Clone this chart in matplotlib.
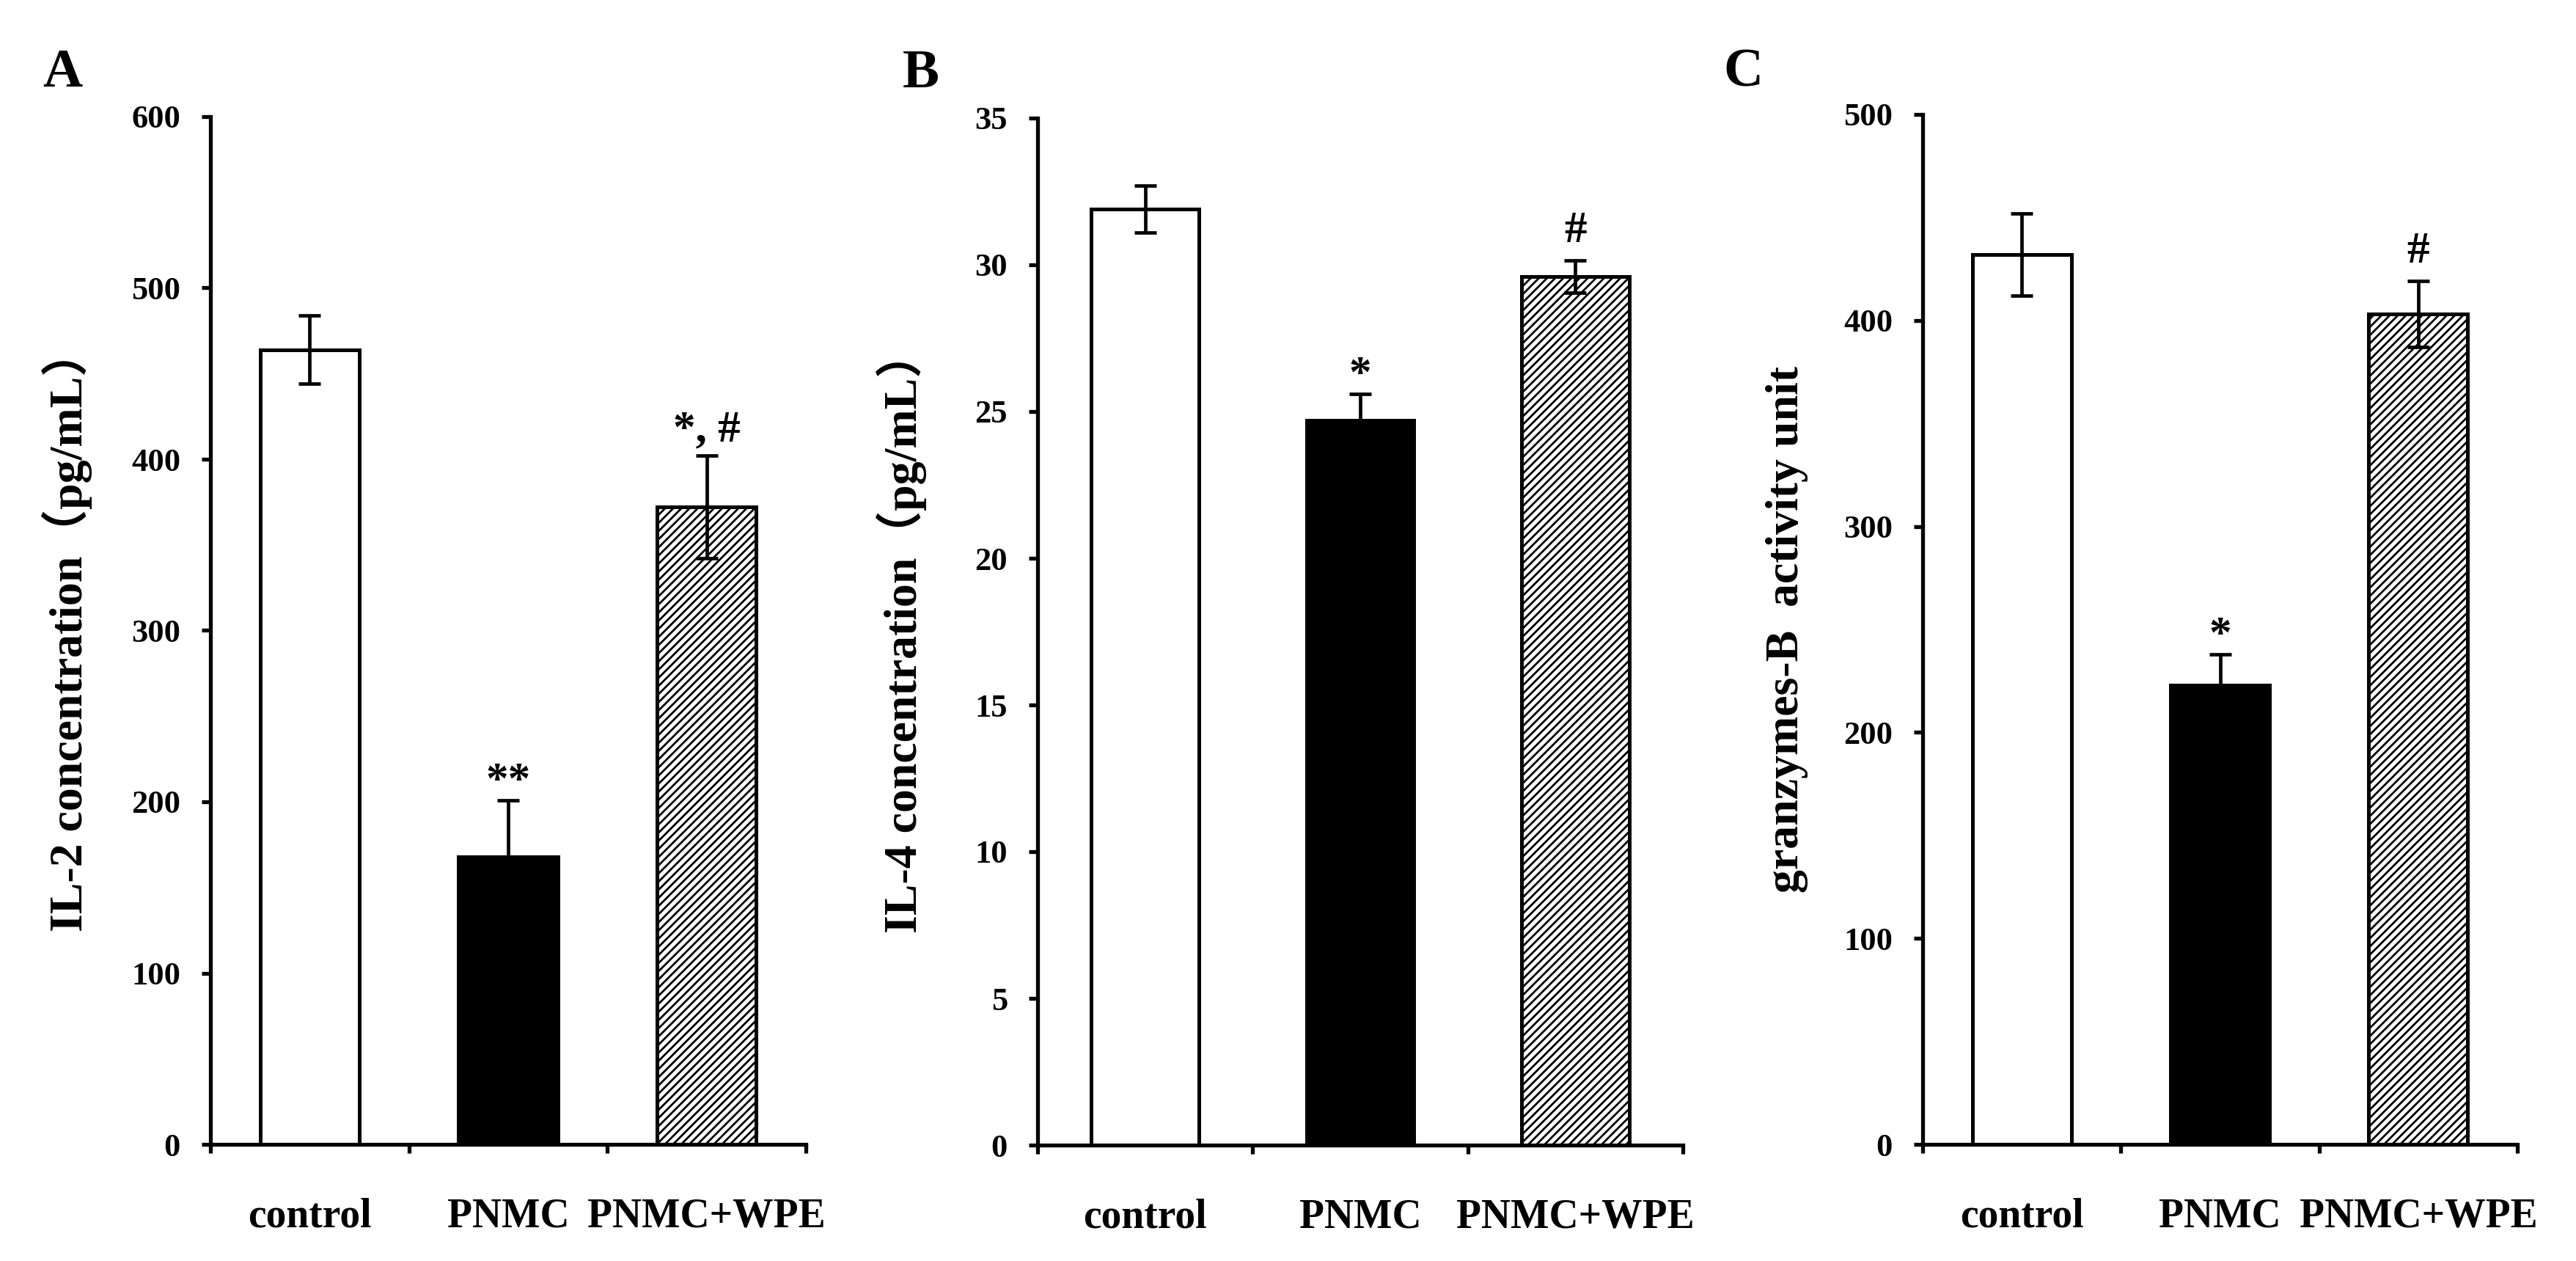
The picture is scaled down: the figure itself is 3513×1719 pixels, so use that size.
import matplotlib
matplotlib.use("Agg")
import matplotlib.pyplot as plt

# ---------------------------------------------------------------
# data
# ---------------------------------------------------------------
groups = ["control", "PNMC", "PNMC+WPE"]

il2_mean = [464, 168, 372]
il2_err = [20, 33, 30]
il2_marks = ["", "**", "*, #"]

il4_mean = [31.9, 24.7, 29.6]
il4_err = [0.8, 0.9, 0.55]
il4_marks = ["", "*", "#"]

gzb_mean = [432, 223, 403]
gzb_err = [20, 15, 16]
gzb_marks = ["", "*", "#"]

il2_ticks = [0, 100, 200, 300, 400, 500, 600]
il4_ticks = [0, 5, 10, 15, 20, 25, 30, 35]
gzb_ticks = [0, 100, 200, 300, 400, 500]

plt.rcParams["font.family"] = ["Liberation Serif", "Noto Sans CJK SC"]
plt.rcParams["font.weight"] = "bold"
plt.rcParams["hatch.linewidth"] = 2.0

W, H = 3513, 1719
fig = plt.figure(figsize=(W / 100, H / 100), dpi=100)

fills = ["white", "black", "white"]
hatches = [None, None, "///"]


def draw_panel(rect, means, errs, marks, ticks, ylabel, ylab_x, letter, letter_xy):
    ax = fig.add_axes(rect)
    x = list(range(len(groups)))
    ax.bar(x, means, width=0.5, color=fills, edgecolor="black",
           linewidth=3.6, hatch=hatches, zorder=2)
    ax.errorbar(x, means, yerr=errs, fmt="none", ecolor="black",
                elinewidth=3.4, capsize=11, capthick=3.4, zorder=3)

    # significance marks above the error bars
    for xi, m, e, s in zip(x, means, errs, marks):
        if not s:
            continue
        off = 18 if s.startswith("#") else 7
        if "," in s:
            off = 14
        ax.annotate(s, (xi, m + e), xytext=(0, off), textcoords="offset points",
                    ha="center", va="baseline", fontsize=44, fontweight="bold")

    ax.set_xlim(-0.5, len(groups) - 0.5)
    ax.set_ylim(ticks[0], ticks[-1])
    ax.set_yticks(ticks)
    ax.set_yticklabels([str(t) for t in ticks])

    # boundary ticks without labels, group names at bar centres
    ax.set_xticks([i - 0.5 for i in range(len(groups) + 1)])
    ax.set_xticklabels([])
    ax.set_xticks(x, minor=True)
    ax.set_xticklabels(groups, minor=True)

    ax.spines["top"].set_visible(False)
    ax.spines["right"].set_visible(False)
    ax.spines["left"].set_linewidth(3.8)
    ax.spines["bottom"].set_linewidth(3.8)

    ax.tick_params(axis="y", direction="out", length=8.5, width=3.8,
                   labelsize=32, pad=21)
    ax.tick_params(axis="x", which="major", direction="out", length=8.5, width=3.8)
    ax.tick_params(axis="x", which="minor", length=0, labelsize=40, pad=52)
    for lab in ax.get_yticklabels() + ax.get_xticklabels(minor=True):
        lab.set_fontweight("bold")

    ax.text(ylab_x, 0.5, ylabel, transform=ax.transAxes, rotation=90,
            rotation_mode="anchor", ha="center", va="baseline",
            fontsize=46, fontweight="bold")

    fig.text(letter_xy[0] / W, 1 - letter_xy[1] / H, letter, ha="center",
             va="center", fontsize=54, fontweight="bold")
    return ax


draw_panel([287 / W, 1 - 1560 / H, 812 / W, 1401 / H],
           il2_mean, il2_err, il2_marks, il2_ticks,
           "IL-2 concentration（pg/mL）", -0.2155, "A", (85, 100))

draw_panel([1415 / W, 1 - 1561 / H, 880 / W, 1400 / H],
           il4_mean, il4_err, il4_marks, il4_ticks,
           "IL-4 concentration（pg/mL）", -0.1875, "B", (1256, 101))

draw_panel([2622 / W, 1 - 1560 / H, 811 / W, 1404 / H],
           gzb_mean, gzb_err, gzb_marks, gzb_ticks,
           "granzymes-B  activity unit", -0.2096, "C", (2377, 100))

fig.savefig("out.png", dpi=100, facecolor="white")
